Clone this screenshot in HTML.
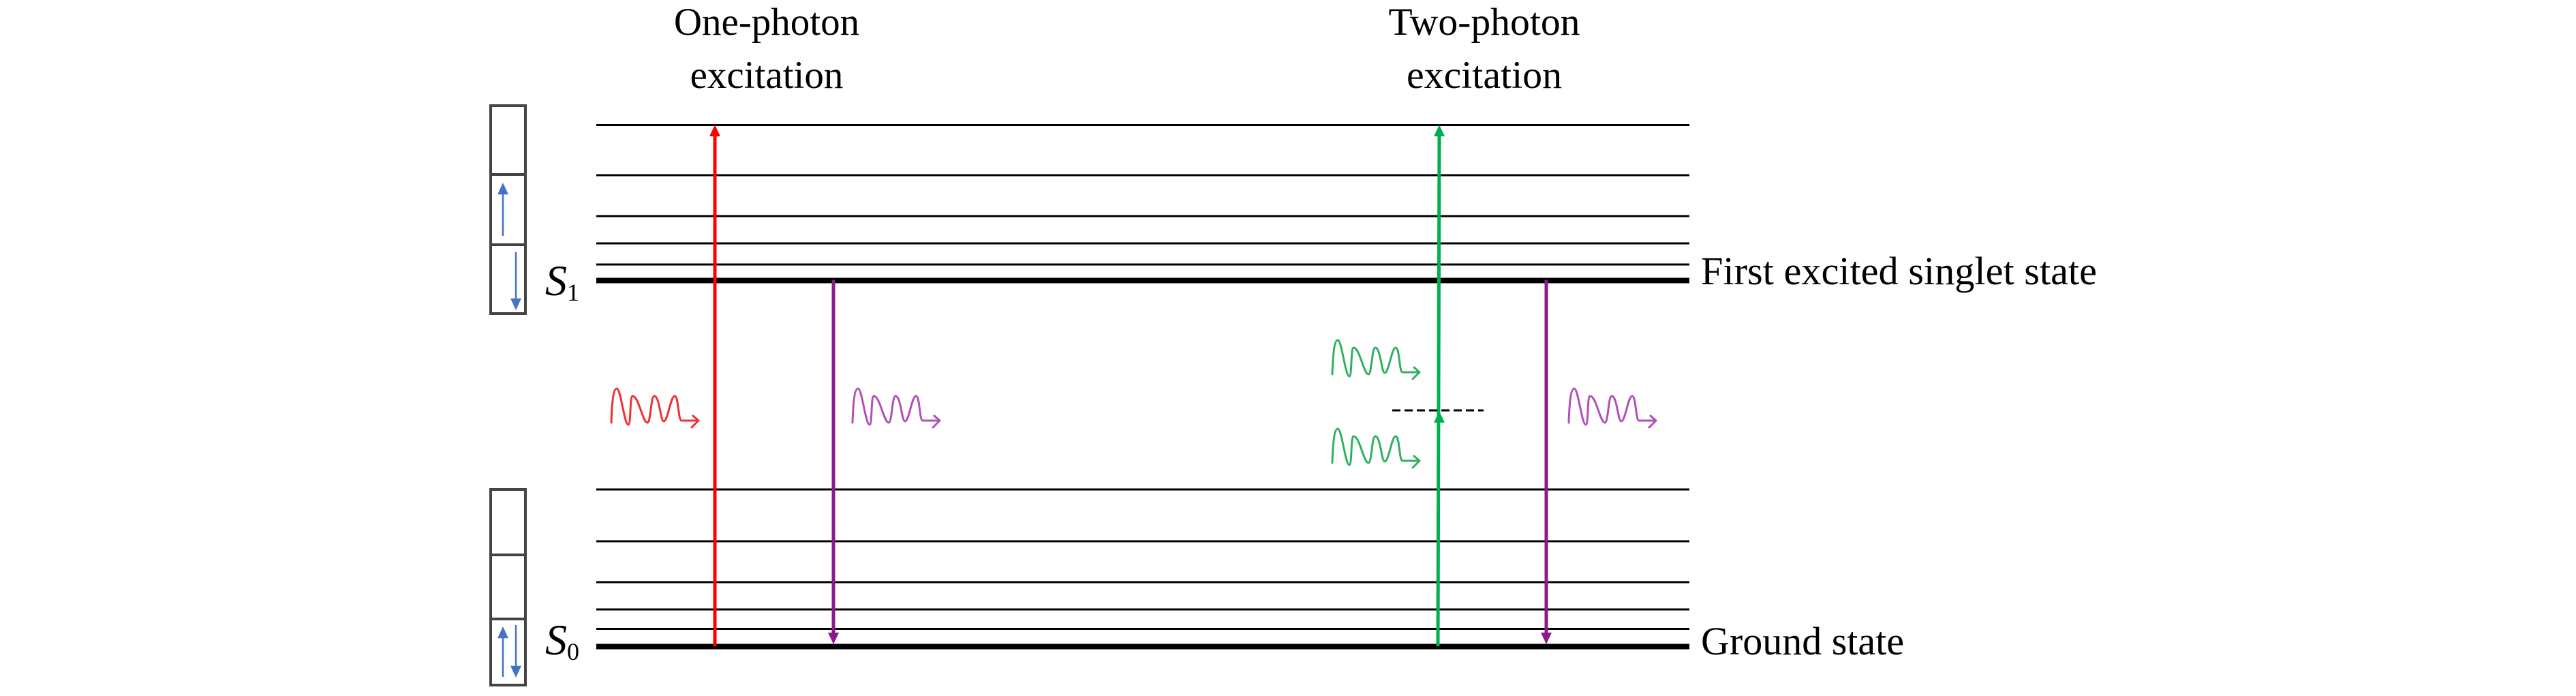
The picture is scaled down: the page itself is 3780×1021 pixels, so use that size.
<!DOCTYPE html>
<html><head><meta charset="utf-8"><style>
html,body{margin:0;padding:0;background:#fff;}
svg{display:block;}
text{font-family:"Liberation Serif",serif;fill:#000;}
</style></head><body>
<svg width="3780" height="1021" viewBox="0 0 3780 1021" xmlns="http://www.w3.org/2000/svg">
<defs>
<path id="sq" d="M0,50 C1,20 3,0 8,0 C14,0 19,53 25,53 C29,53 27,12 31,11 C40,10 46,50 53,50 C58,50 58,11 63,11 C71,11 72,48 77,48 C83,48 87,11 93,11 C99,11 98,47 103,47 L128,47 M120,40 L128,47 L118,57" fill="none" stroke-width="3" stroke-linecap="round" stroke-linejoin="round"/>
</defs>
<text x="1125" y="51" font-size="57" text-anchor="middle">One-photon</text>
<text x="1125" y="129" font-size="57" text-anchor="middle">excitation</text>
<text x="2178" y="51" font-size="57" text-anchor="middle" textLength="281" lengthAdjust="spacingAndGlyphs">Two-photon</text>
<text x="2178" y="129" font-size="57" text-anchor="middle" textLength="228" lengthAdjust="spacingAndGlyphs">excitation</text>
<g stroke="#000" stroke-width="3">
<line x1="875" y1="183.5" x2="2479" y2="183.5"/>
<line x1="875" y1="257" x2="2479" y2="257"/>
<line x1="875" y1="317" x2="2479" y2="317"/>
<line x1="875" y1="357" x2="2479" y2="357"/>
<line x1="875" y1="388" x2="2479" y2="388"/>
<line x1="875" y1="718" x2="2479" y2="718"/>
<line x1="875" y1="794" x2="2479" y2="794"/>
<line x1="875" y1="854" x2="2479" y2="854"/>
<line x1="875" y1="894" x2="2479" y2="894"/>
<line x1="875" y1="922.5" x2="2479" y2="922.5"/>
</g>
<g stroke="#000" stroke-width="8">
<line x1="875" y1="411.5" x2="2479" y2="411.5"/>
<line x1="875" y1="948.5" x2="2479" y2="948.5"/>
</g>
<g fill="none" stroke="#444" stroke-width="4">
<rect x="720" y="155" width="51" height="305"/>
<line x1="720" y1="256" x2="771" y2="256"/>
<line x1="720" y1="359" x2="771" y2="359"/>
<rect x="720" y="718" width="51" height="287"/>
<line x1="720" y1="814" x2="771" y2="814"/>
<line x1="720" y1="908" x2="771" y2="908"/>
</g>
<g stroke="#4472C4" stroke-width="2.5" fill="#4472C4">
<line x1="738" y1="346" x2="738" y2="280"/><path d="M732,284 L738,271 L744,284Z"/>
<line x1="757" y1="370" x2="757" y2="443"/><path d="M751,439 L757,452 L763,439Z"/>
<line x1="738" y1="993" x2="738" y2="931"/><path d="M732,935 L738,922 L744,935Z"/>
<line x1="757" y1="917" x2="757" y2="982"/><path d="M751,978 L757,991 L763,978Z"/>
</g>
<text x="800" y="433" font-size="64" font-style="italic">S</text>
<text x="832" y="441" font-size="36">1</text>
<text x="800" y="960" font-size="64" font-style="italic">S</text>
<text x="832" y="968" font-size="36">0</text>
<text x="2496" y="417" font-size="58" textLength="581" lengthAdjust="spacingAndGlyphs">First excited singlet state</text>
<text x="2496" y="960" font-size="58" textLength="298" lengthAdjust="spacingAndGlyphs">Ground state</text>
<line x1="1049" y1="948" x2="1049" y2="195" stroke="#f00" stroke-width="5"/>
<path d="M1041,200 L1049,183 L1057,200Z" fill="#f00"/>
<line x1="1223" y1="411" x2="1223" y2="932" stroke="#8B1A8B" stroke-width="5"/>
<path d="M1215,928 L1223,945 L1231,928Z" fill="#8B1A8B"/>
<line x1="2269" y1="411" x2="2269" y2="932" stroke="#8B1A8B" stroke-width="5"/>
<path d="M2261,928 L2269,945 L2277,928Z" fill="#8B1A8B"/>
<line x1="2110" y1="948" x2="2112" y2="195" stroke="#00B050" stroke-width="5"/>
<path d="M2104,200 L2112,183 L2120,200Z" fill="#00B050"/>
<path d="M2104,620 L2112,603 L2120,620Z" fill="#00B050"/>
<line x1="2043" y1="602" x2="2177" y2="602" stroke="#000" stroke-width="3" stroke-dasharray="12,6"/>
<use href="#sq" x="897" y="570" stroke="#f03030"/>
<use href="#sq" x="1251" y="570" stroke="#b050b8"/>
<use href="#sq" x="2302" y="570" stroke="#b050b8"/>
<use href="#sq" x="1955" y="499" stroke="#30b060"/>
<use href="#sq" x="1955" y="629" stroke="#30b060"/>
</svg>
</body></html>
